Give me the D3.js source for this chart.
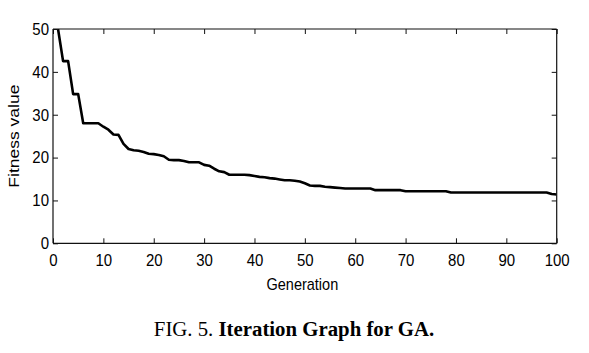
<!DOCTYPE html>
<html>
<head>
<meta charset="utf-8">
<script src="https://cdn.jsdelivr.net/npm/d3@7"></script>
<style>
  html, body { margin: 0; padding: 0; background: #fff; }
  svg { display: block; }
</style>
</head>
<body>
<svg id="chart" width="589" height="353"></svg>
<script>
// Generations 1..100 and best fitness value per generation
const generations = d3.range(1, 101);
const fitness = [
  50.0, 42.5, 42.5, 34.8, 34.8, 28.0, 28.0, 28.0, 28.0, 27.2,
  26.5, 25.4, 25.3, 23.2, 22.0, 21.7, 21.6, 21.3, 20.9, 20.8,
  20.6, 20.3, 19.5, 19.4, 19.4, 19.2, 18.9, 18.9, 18.9, 18.3,
  18.1, 17.4, 16.8, 16.6, 16.0, 16.0, 16.0, 16.0, 15.9, 15.7,
  15.5, 15.4, 15.2, 15.1, 14.9, 14.7, 14.7, 14.6, 14.4, 14.0,
  13.5, 13.4, 13.4, 13.2, 13.1, 13.0, 12.9, 12.8, 12.8, 12.8,
  12.8, 12.8, 12.8, 12.4, 12.4, 12.4, 12.4, 12.4, 12.4, 12.15,
  12.15, 12.15, 12.15, 12.15, 12.15, 12.15, 12.15, 12.15, 11.85, 11.85,
  11.85, 11.85, 11.85, 11.85, 11.85, 11.85, 11.85, 11.85, 11.85, 11.85,
  11.85, 11.85, 11.85, 11.85, 11.85, 11.85, 11.85, 11.85, 11.5, 11.4
];
const xTicks = [0, 10, 20, 30, 40, 50, 60, 70, 80, 90, 100];
const yTicks = [0, 10, 20, 30, 40, 50];
const xLabel = "Generation";
const yLabel = "Fitness value";
const captionPlain = "FIG. 5. ";
const captionBold = "Iteration Graph for GA.";

const svg = d3.select("#chart");
const L = 53, R = 556.7, T = 29, B = 243.3;

const x = d3.scaleLinear().domain([0, 100]).range([L, R]);
const y = d3.scaleLinear().domain([0, 50]).range([B, T]);

const axisColor = "#111";
const font = "Arial, 'Liberation Sans', Helvetica, sans-serif";
const stretch = 1.1; // the original figure is slightly stretched vertically

// clip
svg.append("defs").append("clipPath").attr("id", "clip")
  .append("rect").attr("x", L).attr("y", T).attr("width", R - L).attr("height", B - T);

// line
const line = d3.line().x((d, i) => x(generations[i])).y(d => y(d));
svg.append("path")
  .datum(fitness)
  .attr("clip-path", "url(#clip)")
  .attr("fill", "none")
  .attr("stroke", "#000")
  .attr("stroke-width", 2.6)
  .attr("stroke-linejoin", "round")
  .attr("d", line);

// axes (inward ticks on all four sides)
const tickLen = 5;
const axB = d3.axisBottom(x).tickValues(xTicks).tickSize(-tickLen).tickPadding(10).tickFormat(d3.format("d"));
const axT = d3.axisTop(x).tickValues(xTicks).tickSize(-tickLen).tickFormat("");
const axL = d3.axisLeft(y).tickValues(yTicks).tickSize(-tickLen).tickPadding(4).tickFormat(d3.format("d"));
const axR = d3.axisRight(y).tickValues(yTicks).tickSize(-tickLen).tickFormat("");

function style(g) {
  g.selectAll("path.domain").attr("stroke", axisColor).attr("stroke-width", 1.2);
  g.selectAll(".tick line").attr("stroke", axisColor).attr("stroke-width", 1);
  g.selectAll(".tick text").attr("fill", "#000").style("font-family", font).style("font-size", "15px")
    .attr("transform", `scale(1,${stretch})`);
}

svg.append("g").attr("transform", `translate(0,${B})`).call(axB).call(style)
  .call(g => g.select("path.domain").attr("d", `M${L},0H${R}`));
svg.append("g").attr("transform", `translate(0,${T})`).call(axT).call(style)
  .call(g => g.select("path.domain").attr("d", `M${L},0H${R}`));
svg.append("g").attr("transform", `translate(${L},0)`).call(axL).call(style)
  .call(g => g.select("path.domain").attr("d", `M0,${T}V${B}`));
svg.append("g").attr("transform", `translate(${R},0)`).call(axR).call(style)
  .call(g => g.select("path.domain").attr("d", `M0,${T}V${B}`));

// axis labels
svg.append("text")
  .attr("transform", `translate(${(L + R) / 2 - 2.5},289.5) scale(1,${stretch})`)
  .attr("text-anchor", "middle")
  .style("font-family", font).style("font-size", "14.5px")
  .text(xLabel);

svg.append("text")
  .attr("transform", `translate(18.5,${(T + B) / 2}) rotate(-90) scale(1.13,1)`)
  .attr("text-anchor", "middle")
  .style("font-family", font).style("font-size", "15.5px")
  .text(yLabel);

// caption
const cap = svg.append("text")
  .attr("x", 294).attr("y", 336)
  .attr("text-anchor", "middle")
  .style("font-family", "'Liberation Serif', 'Times New Roman', serif")
  .style("font-size", "20.8px");
cap.append("tspan").text(captionPlain);
cap.append("tspan").style("font-weight", "bold").text(captionBold);
</script>
</body>
</html>
